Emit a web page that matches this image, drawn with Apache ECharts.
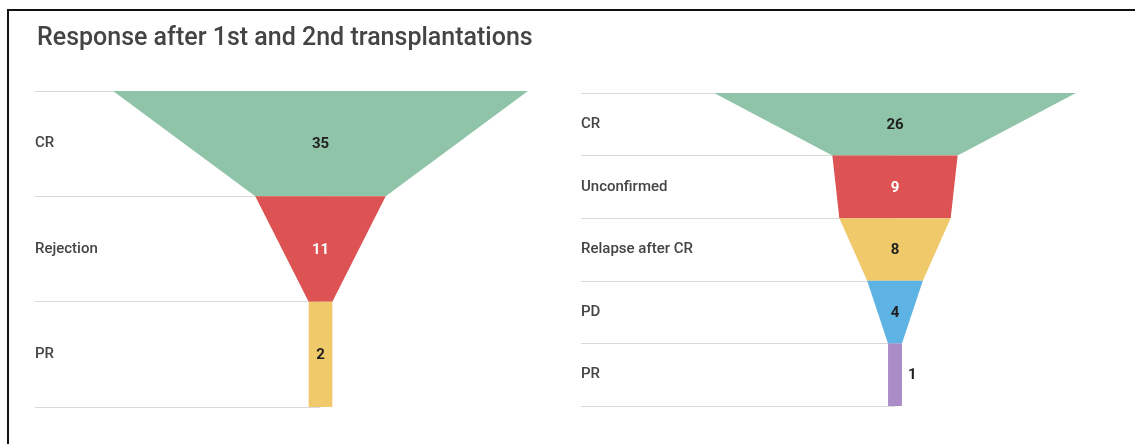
<!DOCTYPE html>
<html>
<head>
<meta charset="utf-8">
<script src="https://cdn.jsdelivr.net/npm/echarts@6/dist/echarts.min.js"></script>
<style>
  html, body { margin: 0; padding: 0; background: #fff; }
  #chart { width: 1135px; height: 444px; }
  #frame { position: absolute; left: 7px; top: 9px; width: 1200px; height: 500px;
           border-left: 2px solid #111; border-top: 2px solid #111; pointer-events: none; }
</style>
</head>
<body>
<div id="chart"></div>
<div id="frame"></div>
<script>
// first transplantation
const firstStages = ['CR', 'Rejection', 'PR'];
const firstCounts = [35, 11, 2];
const firstColors = ['#8fc4a8', '#dd5353', '#f0ca6a'];

// second transplantation
const secondStages = ['CR', 'Unconfirmed', 'Relapse after CR', 'PD', 'PR'];
const secondCounts = [26, 9, 8, 4, 1];
const secondColors = ['#8fc4a8', '#dd5353', '#f0ca6a', '#5db3e3', '#ab8cc7'];

const darkLabel = '#1f1f1f';
const lightLabel = '#fff';

const chart = echarts.init(document.getElementById('chart'));

// each row: top edge = own count, bottom edge = next count (last row is straight)
function funnelItem(counts, colors) {
  return function (params, api) {
    const i = params.dataIndex;
    const v = api.value(0);
    const next = i + 1 < counts.length ? counts[i + 1] : v;
    const band = api.size([0, 1])[1];
    const mid = api.coord([0, i]);
    const top = mid[1] - band / 2;
    const bot = mid[1] + band / 2;
    const cx = mid[0];
    const hw = api.coord([v / 2, i])[0] - cx;
    const hn = api.coord([next / 2, i])[0] - cx;
    const narrow = hw * 2 < 16;
    const onRed = colors[i] === '#dd5353';
    return {
      type: 'group',
      children: [{
        type: 'polygon',
        shape: { points: [[cx - hw, top], [cx + hw, top], [cx + hn, bot], [cx - hn, bot]] },
        style: { fill: colors[i] }
      }, {
        type: 'text',
        style: {
          text: String(v),
          x: narrow ? cx + hw + 6 : cx,
          y: mid[1] + 1,
          align: narrow ? 'left' : 'center',
          verticalAlign: 'middle',
          fill: onRed ? lightLabel : darkLabel,
          font: 'bold 15px Roboto'
        }
      }]
    };
  };
}

function yAxisFor(idx, stages) {
  return {
    type: 'category',
    gridIndex: idx,
    data: stages,
    inverse: true,
    axisLine: { show: false },
    axisTick: { show: false },
    axisLabel: { inside: true, margin: 0, color: '#444', fontSize: 15, fontWeight: 500, fontFamily: 'Roboto' },
    splitLine: { show: true, lineStyle: { color: '#d9d9d9', width: 1 } }
  };
}

chart.setOption({
  animation: false,
  title: {
    text: 'Response after 1st and 2nd transplantations',
    left: 32,
    top: 21,
    textStyle: { fontFamily: 'Roboto', fontSize: 25, fontWeight: 500, color: '#444' }
  },
  grid: [
    { left: 35, top: 91, width: 285.5, height: 316 },
    { left: 581, top: 93, width: 314, height: 313 }
  ],
  xAxis: [
    { type: 'value', gridIndex: 0, min: -24.08, max: 0, show: false },
    { type: 'value', gridIndex: 1, min: -22.56, max: 0, show: false }
  ],
  yAxis: [yAxisFor(0, firstStages), yAxisFor(1, secondStages)],
  series: [{
    type: 'custom',
    xAxisIndex: 0,
    yAxisIndex: 0,
    data: firstCounts.map((v, i) => [v, i]),
    encode: { x: 0, y: 1 },
    renderItem: funnelItem(firstCounts, firstColors)
  }, {
    type: 'custom',
    xAxisIndex: 1,
    yAxisIndex: 1,
    data: secondCounts.map((v, i) => [v, i]),
    encode: { x: 0, y: 1 },
    renderItem: funnelItem(secondCounts, secondColors)
  }]
});
</script>
</body>
</html>
